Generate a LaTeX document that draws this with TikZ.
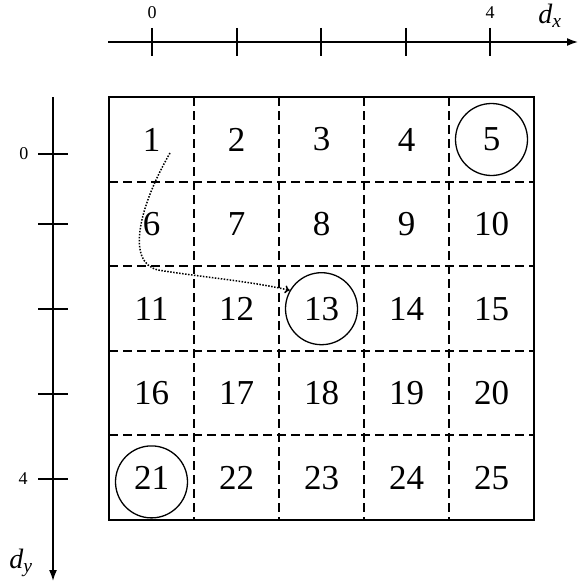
\documentclass[tikz,border=0pt]{standalone}
\usepackage{fontspec}
\setmainfont{Liberation Serif}
\usetikzlibrary{arrows.meta}
\begin{document}
\begin{tikzpicture}[x=1pt,y=-1pt,
  num/.style={font=\fontsize{35}{35}\selectfont, inner sep=0pt},
  ring/.style={circle, draw, line width=1.3pt, minimum size=72pt, inner sep=0pt},
  tickline/.style={line width=1.2pt},
  axisline/.style={line width=1.6pt, -{Latex[length=11pt,width=8pt]}},
  gridline/.style={line width=1.5pt, dash pattern=on 9pt off 5pt},
  lab/.style={font=\fontsize{18}{18}\selectfont, inner sep=0pt},
  axlab/.style={font=\fontsize{28}{28}\selectfont\itshape, inner sep=0pt},
  pathline/.style={line width=1.5pt, dash pattern=on 1.5pt off 1.5pt, -{To[length=5pt,width=8pt]}}]
\useasboundingbox (0,0) rectangle (578,586);
% top axis
\coordinate (xa) at (108,42);
\coordinate (xb) at (578,42);
\draw[axisline] (xa) -- (xb);
\foreach \x in {152,237,321,406,490} \draw[tickline] (\x,28) -- (\x,56);
\node[lab] (x0) at (152,13) {0};
\node[lab] (x4) at (490,13) {4};
\node[axlab] (dx) at (550,16) {d\textsubscript{x}};
% left axis
\coordinate (ya) at (53,97);
\coordinate (yb) at (53,581);
\draw[axisline] (ya) -- (yb);
\foreach \y in {154,224,309,394,479} \draw[tickline] (38,\y) -- (68,\y);
\node[lab] (y0) at (24,154) {0};
\node[lab] (y4) at (23,479) {4};
\node[axlab] (dy) at (21,563) {d\textsubscript{y}};
% grid
\foreach \k/\yy in {1/182,2/266,3/351,4/435} {
  \draw[gridline] (109+85*\k,97) -- (109+85*\k,520);
  \draw[gridline] (109,\yy) -- (534,\yy);
}
\draw[line width=2.6pt] (109,97) rectangle (534,520);
% numbers
\foreach \r in {0,...,4} {
  \foreach \c in {0,...,4} {
    \pgfmathtruncatemacro{\n}{5*\r+\c+1}
    \node[num] (n\n) at (151.5+85*\c, 139.5+84.6*\r) {\n};
  }
}
\node[ring] (c5) at (n5) {};
\node[ring] (c13) at (n13) {};
\node[ring] (c21) at ([yshift=-4pt]n21) {};
% path
\coordinate (s) at (170,153);
\draw[pathline] (s) .. controls (140,205) and (125,262) .. (158,270)
  .. controls (200,277) and (250,281) .. (c13.150);
\end{tikzpicture}
\end{document}
